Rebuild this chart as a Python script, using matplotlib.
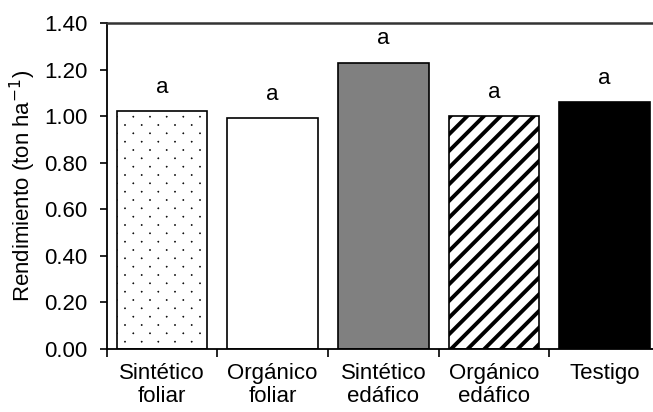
import numpy as np
import matplotlib
matplotlib.use('Agg')
import matplotlib.pyplot as plt
import matplotlib.hatch as mhatch
from matplotlib.ticker import FixedLocator, FormatStrFormatter

tratamientos = ['Sintético\nfoliar', 'Orgánico\nfoliar', 'Sintético\nedáfico',
                'Orgánico\nedáfico', 'Testigo']
rendimiento = [1.02, 0.99, 1.23, 1.00, 1.06]
letras = ['a', 'a', 'a', 'a', 'a']

colores = ['white', 'white', '#808080', 'white', 'black']
tramas = ['.', '', '', '//', '']
grosor_trama = [0.4, 1.0, 1.0, 2.8, 1.0]


class PuntosAlternos(mhatch.Circles):
    """Small dots, staggered rows at half the column spacing."""
    filled = True
    radio = 0.006

    def __init__(self, hatch, density):
        self.ncol = hatch.count('.') * density
        self.num_rows = 2 * self.ncol
        path = matplotlib.path.Path.unit_circle()
        self.shape_vertices = path.vertices
        self.shape_codes = path.codes
        if self.ncol == 0:
            self.num_shapes = 0
        else:
            self.num_shapes = ((self.num_rows // 2 + 1) * (self.ncol + 1)
                               + (self.num_rows // 2) * self.ncol)
        self.num_vertices = self.num_shapes * len(self.shape_vertices)

    def set_vertices_and_codes(self, vertices, codes):
        dy = 1.0 / self.num_rows
        dx = 1.0 / self.ncol
        forma = self.shape_vertices * self.radio
        vs, cs = [], []
        for fila in range(self.num_rows + 1):
            if fila % 2 == 0:
                cols = np.linspace(0, 1, self.ncol + 1)
            else:
                cols = np.linspace(dx / 2, 1 - dx / 2, self.ncol)
            for c in cols:
                vs.append(forma + [c, fila * dy])
                cs.append(self.shape_codes)
        np.concatenate(vs, out=vertices)
        np.concatenate(cs, out=codes)


mhatch._hatch_types = [PuntosAlternos if t is mhatch.SmallFilledCircles else t
                       for t in mhatch._hatch_types]

plt.rcParams['font.family'] = ['Liberation Sans', 'DejaVu Sans']
plt.rcParams['font.size'] = 16

fig = plt.figure(figsize=(6.53, 4.12), dpi=100)
# plot area runs a little past the right edge of the figure
ax = fig.add_axes([0.1634, 0.153, 0.8472, 0.7913])

x = list(range(len(tratamientos)))
for i in x:
    with plt.rc_context({'hatch.linewidth': grosor_trama[i]}):
        b = ax.bar(x[i], rendimiento[i], width=0.82, color=colores[i],
                   edgecolor='black', linewidth=1.2, hatch=tramas[i] or None,
                   zorder=2)
    for p in b:
        if hasattr(p, 'set_hatch_linewidth'):
            p.set_hatch_linewidth(grosor_trama[i])
    ax.annotate(letras[i], (x[i], rendimiento[i]), xytext=(0, 17),
                textcoords='offset points', ha='center', va='center',
                fontsize=16)

ax.set_xlim(-0.5, len(tratamientos) - 0.5)
ax.set_ylim(0, 1.40)
ax.set_yticks([0.0, 0.2, 0.4, 0.6, 0.8, 1.0, 1.2, 1.4])
ax.yaxis.set_major_formatter(FormatStrFormatter('%.2f'))

# category labels between boundary tick marks
ax.set_xticks(x)
ax.set_xticklabels(tratamientos, linespacing=1.15)
ax.xaxis.set_minor_locator(FixedLocator([i - 0.5 for i in range(len(x) + 1)]))
ax.tick_params(axis='x', which='major', length=0, pad=10)
ax.tick_params(axis='x', which='minor', length=6, width=1.2, direction='out')
ax.tick_params(axis='y', length=5, width=1.2, direction='out', pad=9)

ax.set_ylabel('Rendimiento (ton ha$^{-1}$)', fontsize=16, labelpad=4)

ax.spines['right'].set_visible(False)
for s in ['left', 'bottom']:
    ax.spines[s].set_linewidth(1.3)
ax.spines['top'].set_linewidth(1.8)
ax.spines['top'].set_color('#333333')

fig.savefig('out.png', dpi=100)
